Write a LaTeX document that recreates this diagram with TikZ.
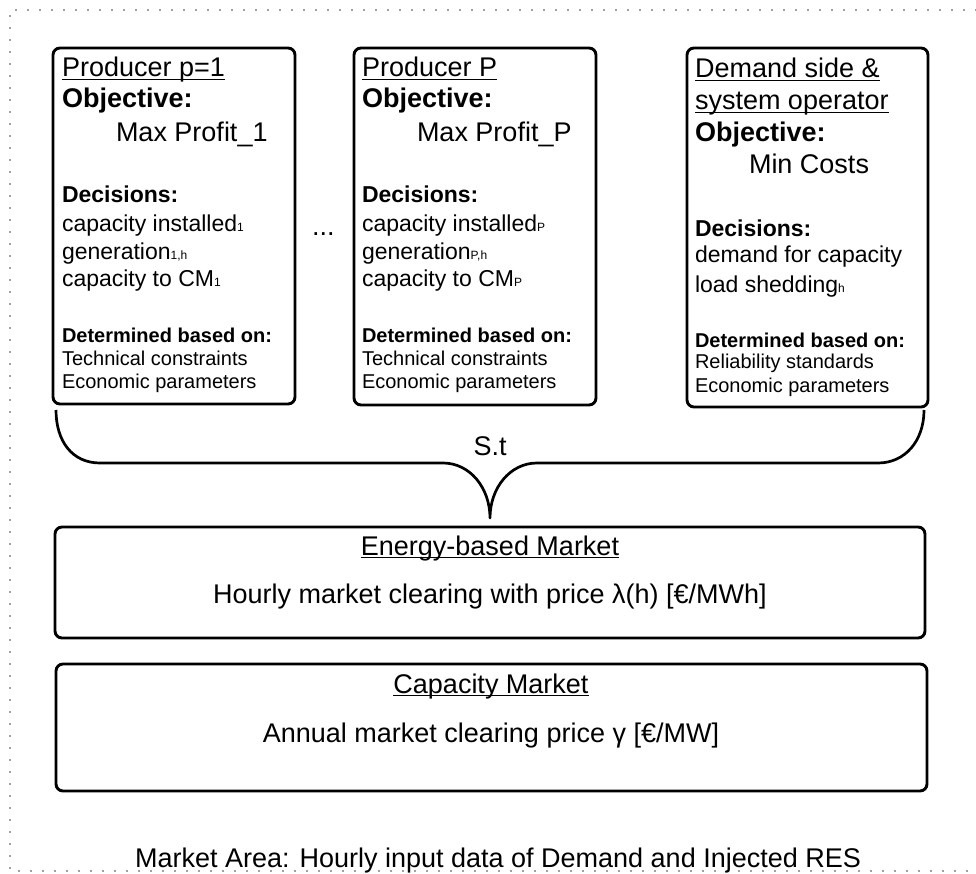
\documentclass[tikz,border=0pt]{standalone}
\usepackage{fontspec}
\setmainfont{Liberation Sans}
\newcommand{\myul}[1]{\setbox0=\hbox{#1}\rlap{\rule[-3.2pt]{\wd0}{1.4pt}}\box0}
\newcommand{\sbs}[1]{{\fontsize{12}{12}\selectfont #1}}
\begin{document}
\begin{tikzpicture}[x=1pt,y=-1pt,
  box/.style={draw, line width=2.9pt, rounded corners=7pt, inner sep=0pt, outer sep=0pt, anchor=north west},
  txt/.style={anchor=base west, inner sep=0pt, outer sep=0pt},
  ctxt/.style={anchor=base, inner sep=0pt, outer sep=0pt},
  big/.style={font=\fontsize{27}{27}\selectfont},
  mid/.style={font=\fontsize{23}{23}\selectfont},
  sml/.style={font=\fontsize{20}{20}\selectfont},
  bigb/.style={font=\fontsize{27}{27}\selectfont\bfseries},
  midb/.style={font=\fontsize{23}{23}\selectfont\bfseries},
  smlb/.style={font=\fontsize{20}{20}\selectfont\bfseries},
  dotline/.style={line width=1.8pt, dash pattern=on 0pt off 12pt, line cap=round, draw=black!75},
  bracestyle/.style={line width=2.7pt, line join=round}
]
\useasboundingbox (0,0) rectangle (976,874);
% outer dotted frame
\draw[dotline] (976,10) -- (10,10) -- (10,871) -- (976,871);

% boxes
\node[box, minimum width=242pt, minimum height=356pt] (p1) at (53,48) {};
\node[box, minimum width=242pt, minimum height=357pt] (pP) at (354,48) {};
\node[box, minimum width=241pt, minimum height=359pt] (ds) at (687,48) {};
\node[box, minimum width=870pt, minimum height=111pt] (em) at (55,527) {};
\node[box, minimum width=871pt, minimum height=127pt] (cm) at (56,664) {};

% producer 1
\node[txt, big]  (p1t)  at (62,77)  {\myul{Producer p=1}};
\node[txt, bigb] (p1o)  at (62,108) {Objective:};
\node[txt, big]  (p1m)  at (116,142) {Max Profit\_1};
\node[txt, midb] (p1d)  at (62,203) {Decisions:};
\node[txt, mid]  (p1d1) at (62,232) {capacity installed\sbs{1}};
\node[txt, mid]  (p1d2) at (62,260) {generation\sbs{1,h}};
\node[txt, mid]  (p1d3) at (62,287) {capacity to CM\sbs{1}};
\node[txt, smlb] (p1b)  at (62,342) {Determined based on:};
\node[txt, sml]  (p1b1) at (62,365) {Technical constraints};
\node[txt, sml]  (p1b2) at (62,388) {Economic parameters};

\node[txt, big] (dots) at (312,236) {...};

% producer P
\node[txt, big]  (pPt)  at (362,77)  {\myul{Producer P}};
\node[txt, bigb] (pPo)  at (362,108) {Objective:};
\node[txt, big]  (pPm)  at (417,142) {Max Profit\_P};
\node[txt, midb] (pPd)  at (362,203) {Decisions:};
\node[txt, mid]  (pPd1) at (362,232) {capacity installed\sbs{P}};
\node[txt, mid]  (pPd2) at (362,260) {generation\sbs{P,h}};
\node[txt, mid]  (pPd3) at (362,287) {capacity to CM\sbs{P}};
\node[txt, smlb] (pPb)  at (362,342) {Determined based on:};
\node[txt, sml]  (pPb1) at (362,365) {Technical constraints};
\node[txt, sml]  (pPb2) at (362,388) {Economic parameters};

% demand side
\node[txt, big]  (dst1) at (695,78)  {\myul{Demand side \&}};
\node[txt, big]  (dst2) at (695,110) {\myul{system operator}};
\node[txt, bigb] (dso)  at (695,142) {Objective:};
\node[txt, big]  (dsm)  at (749,174) {Min Costs};
\node[txt, midb] (dsd)  at (695,237) {Decisions:};
\node[txt, mid]  (dsd1) at (695,263) {demand for capacity};
\node[txt, mid]  (dsd2) at (695,292) {load shedding\sbs{h}};
\node[txt, smlb] (dsb)  at (695,347) {Determined based on:};
\node[txt, sml]  (dsb1) at (695,368) {Reliability standards};
\node[txt, sml]  (dsb2) at (695,392) {Economic parameters};

% brace
\coordinate (tip) at (490,518);
\draw[bracestyle] (p1.south west) ++(3,6) .. controls (56,441) and (72,463) .. (100,463)
  -- (443,463) .. controls (470,463) and (490,488) .. (tip)
  .. controls (490,488) and (510,463) .. (537,463)
  -- (878,463) .. controls (905,463) and (924,441) .. (924,410);
\node[ctxt, big] (st) at (490,455) {S.t};

% markets
\node[ctxt, big] (emt) at (490,555) {\myul{Energy-based Market}};
\node[ctxt, big] (emx) at (490,603) {Hourly market clearing with price λ(h) [€/MWh]};
\node[ctxt, big] (cmt) at (491,693) {\myul{Capacity Market}};
\node[ctxt, big] (cmx) at (491,742) {Annual market clearing price γ [€/MW]};

\node[ctxt, big] (ma) at (498,867) {Market Area: Hourly input data of Demand and Injected RES};
\end{tikzpicture}
\end{document}
